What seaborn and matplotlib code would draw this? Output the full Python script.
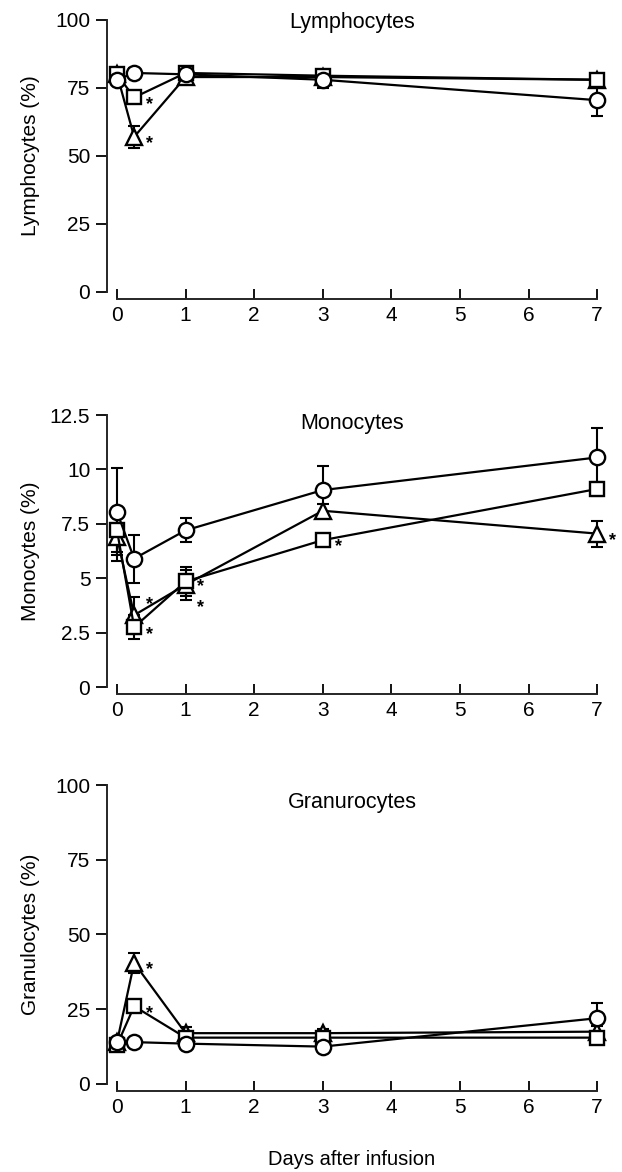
import matplotlib
matplotlib.use("Agg")
import matplotlib.pyplot as plt
import seaborn as sns
import pandas as pd

# ---------------- data ----------------
days = [0, 0.25, 1, 3, 7]
x_ticks = [0, 1, 2, 3, 4, 5, 6, 7]

# Lymphocytes (%)
lym_circle = [78, 80.5, 80, 78, 70.5]
lym_circle_err = [2, 2, 2, 3, 6]
lym_square = [80, 71.5, 80.5, 79.5, 78]
lym_square_err = [2, 2, 2, 2, 2]
lym_triangle = [80, 57, 79, 79, 78]
lym_triangle_err = [2, 4, 2, 2, 2]
lym_stars_x = [0.25, 0.25]
lym_stars_y = [71.5, 57]

# Monocytes (%)
mon_circle = [8.05, 5.9, 7.2, 9.05, 10.55]
mon_circle_err = [2.0, 1.1, 0.55, 1.1, 1.35]
mon_square = [7.2, 2.75, 4.85, 6.75, 9.1]
mon_square_err = [1.0, 0.55, 0.65, 0.25, 0.3]
mon_triangle = [6.9, 3.3, 4.7, 8.1, 7.05]
mon_triangle_err = [1.1, 0.85, 0.7, 0.3, 0.6]
mon_stars_x = [0.25, 0.25, 1, 1, 3, 7]
mon_stars_y = [4.1, 2.75, 4.95, 3.95, 6.75, 7.05]

# Granulocytes (%)
gra_circle = [14, 14, 13.5, 12.5, 22]
gra_circle_err = [1.5, 1, 1.5, 1.5, 5]
gra_square = [13, 26, 15.5, 15.5, 15.5]
gra_square_err = [1.5, 2, 1.5, 1.5, 1.5]
gra_triangle = [14, 40.5, 17, 17, 17.5]
gra_triangle_err = [1.5, 3.3, 2, 1.5, 2]
gra_stars_x = [0.25, 0.25]
gra_stars_y = [40.5, 26]

panels = [
    dict(title="Lymphocytes", ylabel="Lymphocytes (%)",
         ymax=100, yticks=[0, 25, 50, 75, 100], yticklabels=["0", "25", "50", "75", "100"],
         series=[(lym_triangle, lym_triangle_err, "^", 11),
                 (lym_square, lym_square_err, "s", 10),
                 (lym_circle, lym_circle_err, "o", 11)],
         stars=(lym_stars_x, lym_stars_y), title_y=0.99),
    dict(title="Monocytes", ylabel="Monocytes (%)",
         ymax=12.5, yticks=[0, 2.5, 5, 7.5, 10, 12.5],
         yticklabels=["0", "2.5", "5", "7.5", "10", "12.5"],
         series=[(mon_triangle, mon_triangle_err, "^", 11),
                 (mon_square, mon_square_err, "s", 10),
                 (mon_circle, mon_circle_err, "o", 11)],
         stars=(mon_stars_x, mon_stars_y), title_y=0.97),
    dict(title="Granurocytes", ylabel="Granulocytes (%)",
         ymax=100, yticks=[0, 25, 50, 75, 100], yticklabels=["0", "25", "50", "75", "100"],
         series=[(gra_triangle, gra_triangle_err, "^", 11),
                 (gra_square, gra_square_err, "s", 10),
                 (gra_circle, gra_circle_err, "o", 11)],
         stars=(gra_stars_x, gra_stars_y), title_y=0.943),
]

# ---------------- style ----------------
sns.set_theme(style="ticks")
plt.rcParams["font.family"] = ["Liberation Sans", "DejaVu Sans"]
plt.rcParams["axes.linewidth"] = 1.4

fig = plt.figure(figsize=(6.22, 11.72), dpi=100)
rects = [
    [0.172, 0.7509, 0.788, 0.2321],
    [0.172, 0.4138, 0.788, 0.2321],
    [0.172, 0.0751, 0.788, 0.2551],
]

for rect, p in zip(rects, panels):
    ax = fig.add_axes(rect)
    for vals, errs, mk, ms in p["series"]:
        df = pd.DataFrame({"day": days, "value": vals})
        ax.errorbar(days, vals, yerr=errs, fmt="none", ecolor="black",
                    elinewidth=1.5, capsize=4.5, capthick=1.5, zorder=1.5,
                    clip_on=False)
        sns.lineplot(data=df, x="day", y="value", ax=ax, color="black",
                     marker=mk, markersize=ms, markerfacecolor="white",
                     markeredgecolor="black", markeredgewidth=1.7,
                     linewidth=1.6, clip_on=False, zorder=3, legend=False)
    sx, sy = p["stars"]
    for xs, ys in zip(sx, sy):
        ax.annotate("*", xy=(xs, ys), xytext=(11, -5), textcoords="offset points",
                    ha="center", va="center", fontsize=13, fontweight="bold",
                    color="black")

    ax.set_xlim(-0.146, 7.0)
    ax.set_ylim(0, p["ymax"])
    ax.set_xticks(x_ticks)
    ax.set_xticklabels([str(t) for t in x_ticks])
    ax.set_yticks(p["yticks"])
    ax.set_yticklabels(p["yticklabels"])
    for s in ["top", "right"]:
        ax.spines[s].set_visible(False)
    ax.spines["bottom"].set_position(("outward", 5))
    ax.spines["bottom"].set_bounds(0, 7)
    ax.spines["left"].set_bounds(0, p["ymax"])
    ax.tick_params(axis="x", direction="in", length=7, width=1.3, labelsize=15,
                   pad=5, colors="black")
    ax.tick_params(axis="y", direction="out", length=8, width=1.3, labelsize=15,
                   pad=4, colors="black")
    ax.set_ylabel(p["ylabel"], fontsize=15, color="black")
    ax.yaxis.set_label_coords(-0.137, 0.5)
    ax.set_xlabel("")
    ax.text(0.5, p["title_y"], p["title"], transform=ax.transAxes,
            ha="center", va="center", fontsize=15.5, color="black")
    last_ax = ax

last_ax.set_xlabel("Days after infusion", fontsize=14.5, color="black")
last_ax.xaxis.set_label_coords(0.5, -0.222)

fig.savefig("out.png", dpi=100, facecolor="white")
